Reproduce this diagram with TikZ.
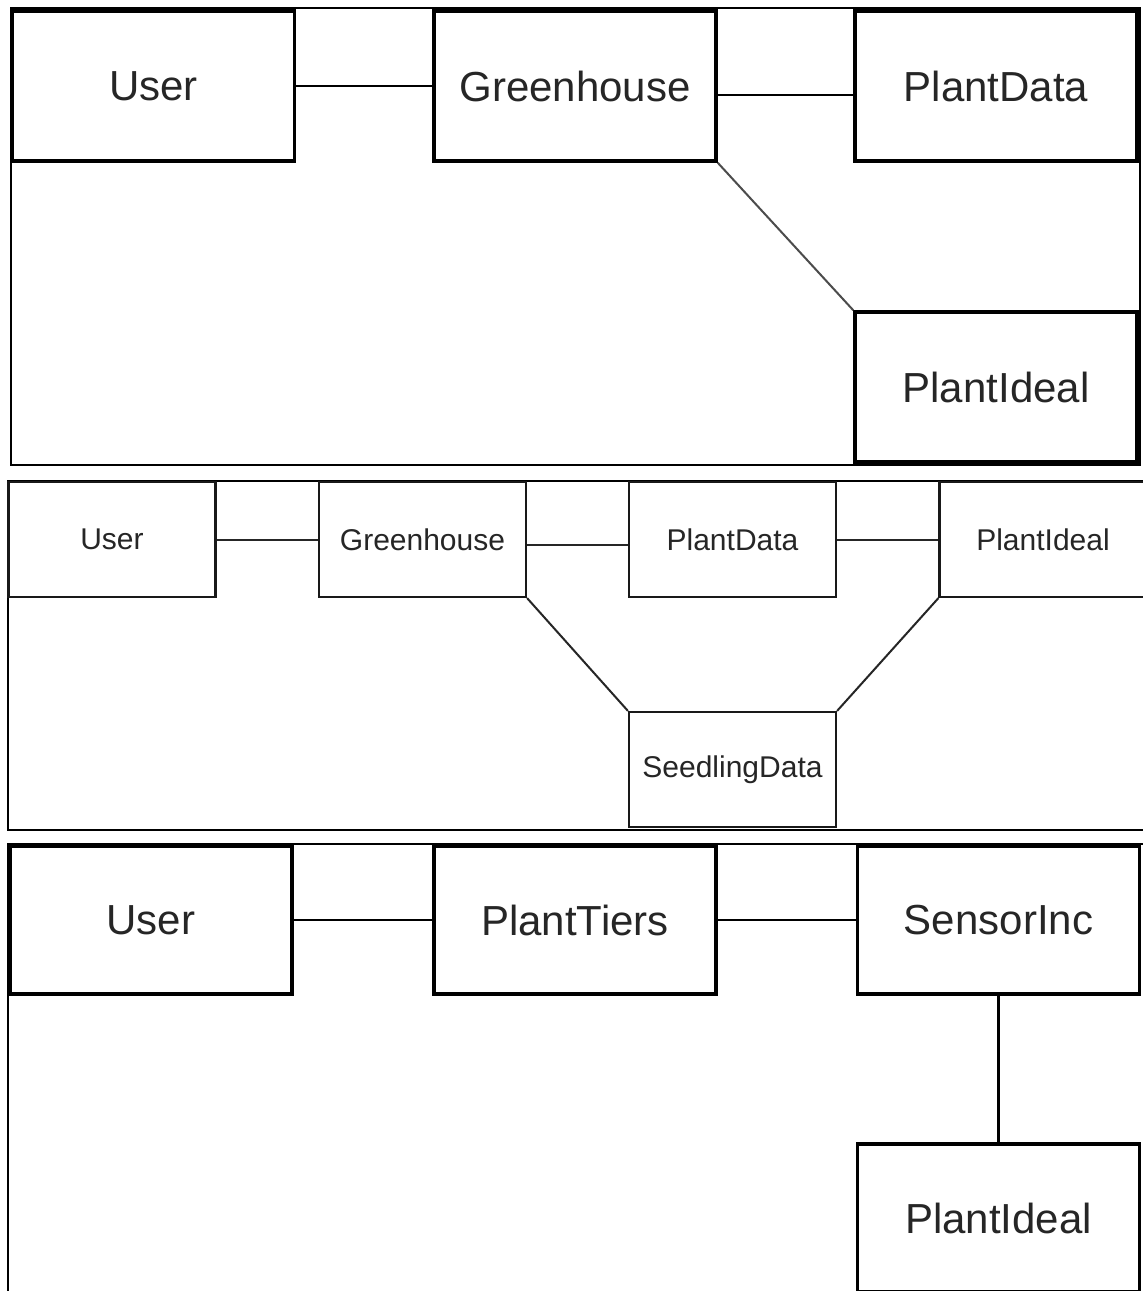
\documentclass[tikz,border=0pt]{standalone}
\usepackage{fontspec}
\setmainfont{Liberation Sans}
\begin{document}
\begin{tikzpicture}[x=1pt,y=-1pt,
  bigbox/.style={draw=black,line width=3.5pt,fill=white,inner sep=0pt,
    minimum width=282pt,minimum height=150pt,text=black!85,
    font=\fontsize{42}{48}\selectfont},
  smallbox/.style={draw=black!90,line width=2.2pt,fill=white,inner sep=0pt,
    minimum width=207pt,minimum height=115pt,text=black!85,
    font=\fontsize{30}{36}\selectfont},
  frame/.style={draw=black,line width=2pt},
  link/.style={draw=black,line width=2.6pt},
  thinlink/.style={draw=black!85,line width=2pt},
  slant/.style={draw=black!70,line width=2pt}]
\useasboundingbox (0,0) rectangle (1143,1291);
\fill[white] (0,0) rectangle (1143,1291);

% outer frames of the three diagrams
\draw[frame] (11,8) rectangle (1140,465);
\draw[frame] (8,481) rectangle (1146,830);
\draw[frame] (8,844) rectangle (1146,1296);

% first diagram
\node[bigbox] (u1)  at (153.5,86) {User};
\node[bigbox] (g1)  at (575,86)   {Greenhouse};
\node[bigbox] (pd1) at (996,86)   {PlantData};
\node[bigbox] (pi1) at (996,387)  {PlantIdeal};
\draw[link] (u1.east) -- (g1.west);
\draw[link] ([yshift=-9pt]g1.east) -- ([yshift=-9pt]pd1.west);
\draw[slant] (g1.south east) -- (pi1.north west);

% second diagram
\node[smallbox] (u2)  at (112,539.5)   {User};
\node[smallbox] (g2)  at (422.5,539.5) {Greenhouse};
\node[smallbox] (pd2) at (732.5,539.5) {PlantData};
\node[smallbox] (pi2) at (1043,539.5)  {PlantIdeal};
\node[smallbox] (sd)  at (732.5,769.5) {SeedlingData};
\draw[thinlink] (u2.east) -- (g2.west);
\draw[thinlink] ([yshift=-5pt]g2.east) -- ([yshift=-5pt]pd2.west);
\draw[thinlink] (pd2.east) -- (pi2.west);
\draw[thinlink] (g2.south east) -- (sd.north west);
\draw[thinlink] (pi2.south west) -- (sd.north east);

% third diagram
\node[bigbox,minimum height=148pt] (u3)  at (151,920)    {User};
\node[bigbox,minimum height=148pt] (pt)  at (575,920)    {PlantTiers};
\node[bigbox,minimum height=148pt] (si)  at (998.5,920)  {SensorInc};
\node[bigbox,minimum height=148pt] (pi3) at (998.5,1218) {PlantIdeal};
\draw[link] (u3.east) -- (pt.west);
\draw[link] (pt.east) -- (si.west);
\draw[link] (si.south) -- (pi3.north);
\end{tikzpicture}
\end{document}
